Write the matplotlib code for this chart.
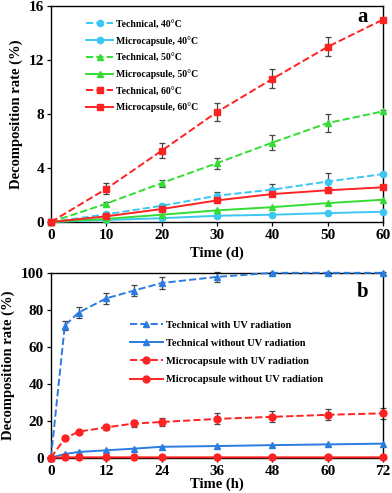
import matplotlib
matplotlib.use("Agg")
import matplotlib.pyplot as plt
import numpy as np

plt.rcParams['font.family'] = ['Liberation Serif', 'DejaVu Serif']
plt.rcParams['font.weight'] = 'bold'

# ---- Panel a data ----
days = [0, 10, 20, 30, 40, 50, 60]
tech40 = [0, 0.57, 1.2, 1.95, 2.4, 3.0, 3.55]
micro40 = [0, 0.15, 0.28, 0.46, 0.54, 0.66, 0.76]
tech50 = [0, 1.36, 2.88, 4.36, 5.88, 7.33, 8.2]
micro50 = [0, 0.23, 0.54, 0.86, 1.1, 1.4, 1.65]
tech60 = [0, 2.46, 5.28, 8.15, 10.6, 12.98, 15.0]
micro60 = [0, 0.42, 0.96, 1.6, 2.07, 2.35, 2.57]
tech40_err = [0, 0.1, 0.15, 0.25, 0.4, 0.65, 0.1]
tech50_err = [0, 0.15, 0.25, 0.4, 0.55, 0.65, 0.1]
tech60_err = [0, 0.4, 0.55, 0.65, 0.7, 0.7, 0.1]
micro60_err = [0, 0.05, 0.1, 0.15, 0.15, 0.2, 0.15]

# ---- Panel b data ----
hours = [0, 3, 6, 12, 18, 24, 36, 48, 60, 72]
tech_uv = [0, 71.5, 78.5, 86.2, 90.4, 94.5, 97.8, 100, 100, 100]
tech_nouv = [0, 2.0, 3.1, 4.0, 4.9, 5.9, 6.3, 6.8, 7.2, 7.6]
micro_uv = [0, 10.4, 14.1, 16.4, 18.5, 19.3, 21.0, 22.1, 23.2, 24.0]
micro_nouv = [0, 0.2, 0.2, 0.2, 0.2, 0.2, 0.2, 0.2, 0.2, 0.2]
tech_uv_err = [0, 2.5, 3.0, 3.0, 3.0, 3.0, 2.5, 0.5, 0.5, 0.5]
micro_uv_err = [0, 1.0, 1.0, 1.5, 2.0, 2.0, 3.0, 3.0, 3.0, 3.0]

cyan = '#3cc6f2'
green = '#33dd33'
red = '#ff2222'
blue = '#2b7ce0'
errc = '#444444'

fig = plt.figure(figsize=(3.92, 4.93), dpi=100)
ax1 = fig.add_axes([0.130, 0.5497, 0.847, 0.438])
ax2 = fig.add_axes([0.130, 0.0716, 0.847, 0.375])

lw = 1.4
def plot(ax, x, y, color, ls, marker, ms, label, err=None):
    if err is not None:
        ax.errorbar(x, y, yerr=err, fmt='none', ecolor=errc, elinewidth=0.9, capsize=2, capthick=0.9, zorder=2)
    ax.plot(x, y, color=color, ls=ls, marker=marker, ms=ms, lw=lw, label=label, zorder=3)

plot(ax1, days, tech40, cyan, '--', 'o', 4.5, 'Technical, 40°C', tech40_err)
plot(ax1, days, micro40, cyan, '-', 'o', 4.5, 'Microcapsule, 40°C')
plot(ax1, days, tech50, green, '--', '^', 5, 'Technical, 50°C', tech50_err)
plot(ax1, days, micro50, green, '-', '^', 5, 'Microcapsule, 50°C')
plot(ax1, days, tech60, red, '--', 's', 5, 'Technical, 60°C', tech60_err)
plot(ax1, days, micro60, red, '-', 's', 5, 'Microcapsule, 60°C', micro60_err)

ax1.set_xlim(0, 60)
ax1.set_ylim(0, 16)
ax1.set_xticks([0, 10, 20, 30, 40, 50, 60])
ax1.set_yticks([0, 4, 8, 12, 16])
ax1.set_xlabel('Time (d)', fontsize=10.5, fontweight='bold', labelpad=3)
ax1.set_ylabel('Decomposition rate (%)', fontsize=10.5, fontweight='bold', labelpad=4)
ax1.text(0.937, 0.949, 'a', transform=ax1.transAxes, fontsize=15, fontweight='bold', ha='center', va='center')
leg1 = ax1.legend(loc='upper left', bbox_to_anchor=(0.095, 0.955), frameon=False, fontsize=7,
                  handlelength=2.7, labelspacing=0.75, handletextpad=0.3, borderaxespad=0)

plot(ax2, hours, tech_uv, blue, '--', '^', 5, 'Technical with UV radiation', tech_uv_err)
plot(ax2, hours, tech_nouv, blue, '-', '^', 5, 'Technical without UV radiation')
plot(ax2, hours, micro_uv, red, '--', 'o', 5, 'Microcapsule with UV radiation', micro_uv_err)
plot(ax2, hours, micro_nouv, red, '-', 'o', 5, 'Microcapsule without UV radiation')

ax2.set_xlim(0, 72)
ax2.set_ylim(0, 100)
ax2.set_xticks([0, 12, 24, 36, 48, 60, 72])
ax2.set_yticks([0, 20, 40, 60, 80, 100])
ax2.set_xlabel('Time (h)', fontsize=10.5, fontweight='bold', labelpad=0)
ax2.set_ylabel('Decomposition rate (%)', fontsize=10.5, fontweight='bold', labelpad=4)
ax2.text(0.937, 0.897, 'b', transform=ax2.transAxes, fontsize=15, fontweight='bold', ha='center', va='center')
leg2 = ax2.legend(loc='upper left', bbox_to_anchor=(0.225, 0.765), frameon=False, fontsize=7.5,
                  handlelength=3.2, labelspacing=0.85, handletextpad=0.3, borderaxespad=0)

for ax in (ax1, ax2):
    ax.tick_params(axis='both', which='major', labelsize=11, length=3, width=0.9, direction='out', pad=2)
    for lab in ax.get_xticklabels() + ax.get_yticklabels():
        lab.set_fontweight('bold')
    for s in ax.spines.values():
        s.set_linewidth(1.0)
    for ln in ax.lines:
        ln.set_clip_on(False)

fig.savefig('out.png', dpi=100)
